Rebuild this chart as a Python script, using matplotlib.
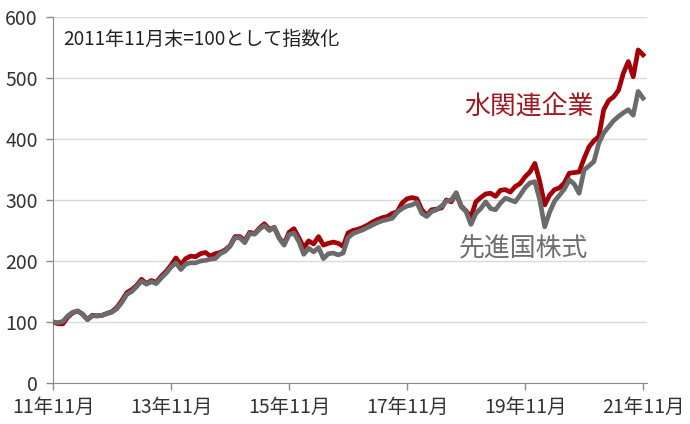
"""
Water-related companies vs developed-market equities, index (2011-11 = 100).
Monthly points from 11年11月 to 21年11月, read off the reference picture.
"""
import numpy as np
import matplotlib
matplotlib.use("Agg")
import matplotlib.pyplot as plt

plt.rcParams['font.family'] = ['Noto Sans CJK JP', 'DejaVu Sans']

# month index 0 = 2011-11 ... 120 = 2021-11
water = [100, 97, 97, 108, 115, 118, 113, 104, 111, 110,
         111, 114, 117, 124, 135, 148, 153, 160, 170, 163,
         168, 165, 175, 183, 193, 205, 194, 204, 208, 207,
         212, 214, 208, 212, 214, 218, 225, 240, 240, 233,
         247, 245, 254, 261, 252, 255, 238, 228, 247, 253,
         238, 222, 233, 228, 240, 226, 229, 231, 229, 224,
         246, 250, 252, 255, 259, 264, 268, 271, 273, 278,
         281, 295, 302, 304, 302, 284, 275, 284, 285, 287,
         300, 297, 311, 290, 282, 272, 297, 304, 310, 311,
         306, 316, 317, 313, 322, 327, 338, 346, 360, 330,
         292, 308, 317, 320, 328, 344, 345, 346, 368, 387,
         397, 404, 448, 463, 469, 480, 508, 527, 502, 546,
         538]
developed = [100, 99, 101, 110, 116, 118, 113, 104, 110, 110,
             111, 114, 116, 122, 132, 145, 150, 158, 167, 162,
             166, 163, 172, 180, 190, 197, 186, 195, 197, 197,
             200, 201, 203, 204, 212, 216, 224, 238, 238, 230,
             245, 244, 252, 258, 250, 255, 237, 226, 243, 246,
             232, 211, 221, 215, 222, 204, 212, 213, 210, 213,
             238, 245, 248, 251, 255, 259, 263, 266, 268, 270,
             280, 286, 290, 292, 296, 278, 273, 281, 284, 290,
             298, 300, 312, 289, 281, 260, 278, 286, 297, 286,
             284, 295, 303, 300, 297, 308, 320, 328, 330, 300,
             256, 280, 298, 308, 318, 333, 326, 311, 349, 356,
             363, 393, 410, 420, 430, 437, 443, 448, 439, 478,
             467]
tick_pos = [0, 24, 48, 72, 96, 120]
tick_labels = ["11年11月", "13年11月", "15年11月", "17年11月", "19年11月", "21年11月"]

RED = "#a50008"
GREY = "#6b6b6b"
TXT = "#333333"

fig = plt.figure(figsize=(6.9, 4.24), dpi=100)
ax = fig.add_axes([53/690, 41/424, (647-53)/690, (383-17)/424])

x = np.arange(len(water))
ax.plot(x, water, color=RED, lw=3.4, solid_joinstyle="round", zorder=3)
ax.plot(x, developed, color=GREY, lw=3.4, solid_joinstyle="round", zorder=4)

ax.set_xlim(0, 120.8)
ax.set_ylim(0, 600)
ax.set_yticks(range(0, 601, 100))
ax.set_xticks(tick_pos)
ax.set_xticklabels(tick_labels)
ax.grid(axis="y", color="#d9d9d9", lw=1)
ax.set_axisbelow(True)

for s in ("top", "right"):
    ax.spines[s].set_visible(False)
for s in ("left", "bottom"):
    ax.spines[s].set_color("#8c8c8c")
ax.tick_params(axis="both", colors="#8c8c8c", labelcolor=TXT, labelsize=14,
               length=5, width=1)
ax.tick_params(axis="y", pad=6)
ax.tick_params(axis="x", pad=5)

ax.text(0.018, 0.94, "2011年11月末=100として指数化", transform=ax.transAxes,
        fontsize=13.7, color="#222222", va="center", ha="left")
# series labels sit next to the lines, no legend box
ax.text(83.6, 453, "水関連企業", color="#a01820", fontsize=18.6, ha="left", va="center")
ax.text(82.6, 220, "先進国株式", color="#6e6e6e", fontsize=18.6, ha="left", va="center")

fig.savefig("out.png", dpi=100)
